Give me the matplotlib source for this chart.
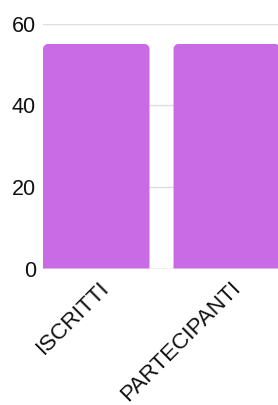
import matplotlib
matplotlib.use("Agg")
import matplotlib.pyplot as plt
import matplotlib.transforms as mtransforms
from matplotlib.path import Path
from matplotlib.patches import PathPatch

categories = ["ISCRITTI", "PARTECIPANTI"]
values = [55, 55]
yticks = [0, 20, 40, 60]

W, H, DPI = 278, 405, 100
plt.rcParams['font.family'] = ['Liberation Sans', 'DejaVu Sans']
fig = plt.figure(figsize=(W / DPI, H / DPI), dpi=DPI)
left, right = 43 / W, 280 / W
bottom, top = (H - 269) / H, (H - 23.5) / H
ax = fig.add_axes([left, bottom, right - left, top - bottom])

bar_w = 0.816
color = "#C96BE5"
x = list(range(len(categories)))
ax.set_xlim(-bar_w / 2, len(categories) - 1 + bar_w / 2)
ax.set_ylim(0, 60)

ax_w_px = (right - left) * W
ax_h_px = (top - bottom) * H
ppx = ax_w_px / (ax.get_xlim()[1] - ax.get_xlim()[0])
ppy = ax_h_px / 60
r_px = 5
rx, ry = r_px / ppx, r_px / ppy

k = 0.5523
for xi, v in zip(x, values):
    x0, x1 = xi - bar_w / 2, xi + bar_w / 2
    verts = [
        (x0, 0), (x0, v - ry),
        (x0, v - ry + k * ry), (x0 + rx - k * rx, v), (x0 + rx, v),
        (x1 - rx, v),
        (x1 - rx + k * rx, v), (x1, v - ry + k * ry), (x1, v - ry),
        (x1, 0), (x0, 0)
    ]
    codes = [Path.MOVETO, Path.LINETO,
             Path.CURVE4, Path.CURVE4, Path.CURVE4,
             Path.LINETO,
             Path.CURVE4, Path.CURVE4, Path.CURVE4,
             Path.LINETO, Path.CLOSEPOLY]
    ax.add_patch(PathPatch(Path(verts, codes), facecolor=color, edgecolor='none', zorder=2))

for yt in yticks[1:]:
    ax.axhline(yt, color="#dddddd", lw=1, zorder=1)
ax.axhline(0, color="#e6e6e6", lw=1.2, alpha=0.7, zorder=3)

for s in ax.spines.values():
    s.set_visible(False)
ax.set_yticks(yticks)
ax.set_yticklabels([str(t) for t in yticks], fontsize=15.5, color="#111111")
ax.tick_params(axis='y', length=0, pad=5)
ax.set_xticks(x)
ax.set_xticklabels(categories, fontsize=16.2, color="#111111", rotation=45,
                   ha='right', va='top', rotation_mode='anchor')
ax.tick_params(axis='x', length=0, pad=6)
offset = mtransforms.ScaledTranslation(3 / DPI, 0, fig.dpi_scale_trans)
for lbl in ax.get_xticklabels():
    lbl.set_transform(lbl.get_transform() + offset)

fig.savefig("out.png", dpi=DPI)
